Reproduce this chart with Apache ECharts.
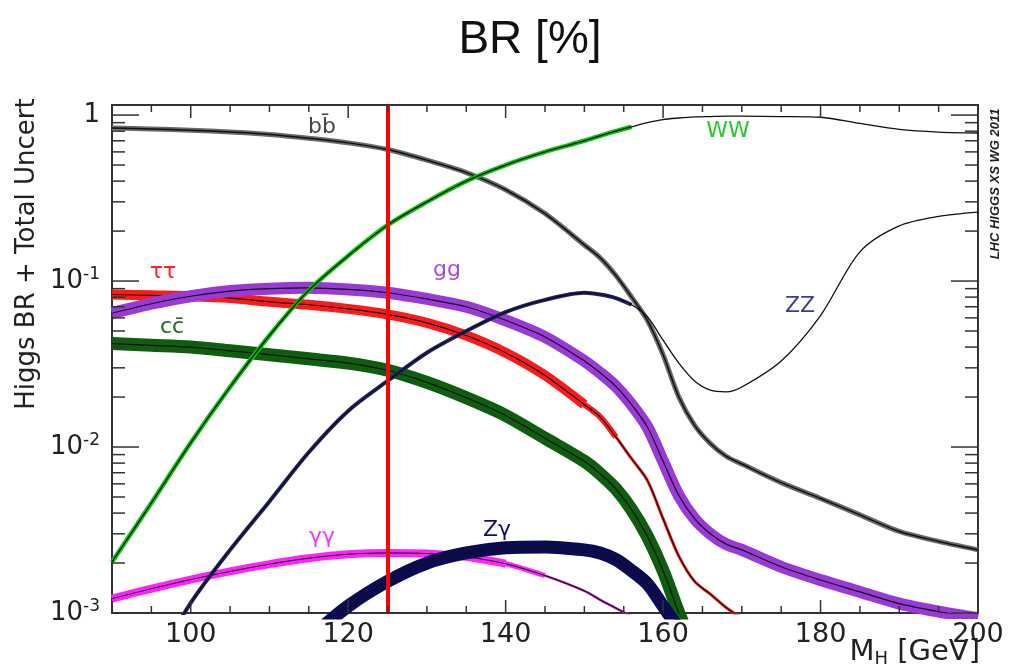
<!DOCTYPE html>
<html>
<head>
<meta charset="utf-8">
<script src="https://cdn.jsdelivr.net/npm/echarts@6/dist/echarts.min.js"></script>
<style>
  html, body { margin: 0; padding: 0; background: #fff; }
  #chart { width: 1009px; height: 672px; }
</style>
</head>
<body>
<div id="chart"></div>
<script>
// Higgs mass grid [GeV]
const masses = [90, 95, 100, 105, 110, 115, 120, 125, 130, 135, 140, 145, 150,
  152, 154, 156, 158, 160, 162, 164, 166, 168, 170,
  175, 180, 185, 190, 195, 200];

// branching ratios (null = off the chart)
const brBB = [0.835, 0.825, 0.81, 0.79, 0.765, 0.725, 0.68, 0.62, 0.535, 0.45, 0.355, 0.255, 0.165,
  0.138, 0.108, 0.08, 0.058, 0.036, 0.02, 0.0135, 0.0105, 0.0088, 0.0079,
  0.0061, 0.0049, 0.0039, 0.0031, 0.0027, 0.0024];
const brWW = [0.00203, 0.0046, 0.0106, 0.023, 0.047, 0.088, 0.142, 0.217, 0.30, 0.40, 0.50, 0.60, 0.70,
  0.75, 0.80, 0.85, 0.90, 0.94, 0.96, 0.975, 0.98, 0.985, 0.985,
  0.98, 0.97, 0.89, 0.82, 0.79, 0.78];
const brTauTau = [0.083, 0.082, 0.081, 0.079, 0.075, 0.072, 0.068, 0.063, 0.056, 0.047, 0.037, 0.027, 0.018,
  0.0152, 0.0115, 0.0085, 0.0063, 0.0037, 0.0022, 0.00155, 0.0013, 0.00108, 0.00093,
  null, null, null, null, null, null];
const brGG = [0.064, 0.073, 0.081, 0.087, 0.09, 0.091, 0.089, 0.085, 0.078, 0.07, 0.058, 0.046, 0.033,
  0.028, 0.0232, 0.018, 0.0132, 0.0082, 0.0051, 0.0037, 0.003, 0.0026, 0.0024,
  0.0019, 0.00158, 0.00134, 0.00114, 0.00102, 0.00093];
const brCC = [0.042, 0.041, 0.04, 0.038, 0.036, 0.034, 0.032, 0.029, 0.0245, 0.0198, 0.0155, 0.0113, 0.0082,
  0.0069, 0.0056, 0.0042, 0.0029, 0.0018, 0.001, 0.0006, null, null, null,
  null, null, null, null, null, null];
const brZZ = [null, 0.00045, 0.00115, 0.0024, 0.0047, 0.0093, 0.0165, 0.025, 0.037, 0.05, 0.065, 0.077, 0.085,
  0.083, 0.079, 0.072, 0.061, 0.044, 0.032, 0.025, 0.022, 0.0215, 0.023,
  0.033, 0.062, 0.15, 0.215, 0.245, 0.26];
const brGamGam = [0.00122, 0.0014, 0.00159, 0.00178, 0.00197, 0.00214, 0.00226, 0.0023, 0.00228, 0.00218, 0.00198, 0.00168, 0.00136,
  0.0012, 0.00107, 0.00095, 0.00085, null, null, null, null, null, null,
  null, null, null, null, null, null];
const brZGam = [null, null, null, null, null, 0.0007, 0.0011, 0.00155, 0.002, 0.0023, 0.00247, 0.0025, 0.0024,
  0.0023, 0.0021, 0.0018, 0.0015, 0.0011, 0.0008, null, null, null, null,
  null, null, null, null, null, null];

const higgsMass = 125;
const yMin = 0.001, yMax = 1.15;

const FONT = 'DejaVu Sans';

// x tick marks every 5 GeV, y tick marks 1..9 per decade
const xTickVals = [];
for (let m = 90; m <= 200; m += 5) xTickVals.push(m);
const yTickVals = [];
[0.001, 0.01, 0.1].forEach(d => { for (let k = 1; k <= 9; k++) yTickVals.push(+(k * d).toPrecision(3)); });
yTickVals.push(1);

function pairs(values, cut) {
  return masses.map((m, i) => [m, (cut && m > cut) ? null : values[i]]);
}
// coloured uncertainty band (drawn as a wide stroke)
function band(name, values, color, width, cut) {
  return {
    name: name, type: 'line', data: pairs(values, cut), showSymbol: false,
    smooth: 0.3, silent: true, connectNulls: false,
    lineStyle: { color: color, width: width, cap: 'butt' }
  };
}
// central value
function centre(name, values, width) {
  return {
    name: name, type: 'line', data: pairs(values), showSymbol: false,
    smooth: 0.3, silent: true,
    lineStyle: { color: '#111', width: width || 1.2 }
  };
}

const isDecade = v => Math.abs(Math.log10(v) - Math.round(Math.log10(v))) < 1e-6;

const chart = echarts.init(document.getElementById('chart'));
const option = {
  animation: false,
  grid: { left: 112, right: 31, top: 105, bottom: 59, show: true, borderColor: '#333', borderWidth: 2 },
  xAxis: {
    type: 'value', min: 90, max: 200, interval: 10,
    axisLine: { show: false }, axisTick: { show: false }, splitLine: { show: false },
    axisLabel: {
      margin: 8, fontFamily: FONT, fontSize: 27, color: '#222',
      formatter: v => (v % 20 === 0 ? String(v) : '')
    }
  },
  yAxis: {
    type: 'log', logBase: 10, min: yMin, max: yMax,
    axisLine: { show: false }, axisTick: { show: false }, splitLine: { show: false },
    axisLabel: {
      margin: 12,
      formatter: v => {
        if (!isDecade(v)) return '';
        const e = Math.round(Math.log10(v));
        return e === 0 ? '{b|1}' : '{b|10}{s|' + e + '}';
      },
      rich: {
        b: { fontFamily: FONT, fontSize: 26, color: '#222' },
        s: { fontFamily: FONT, fontSize: 17, color: '#222', padding: [0, 0, 12, 0] }
      }
    }
  },
  series: [
    band('bb', brBB, '#6a6a6a', 5),
    centre('bb', brBB, 1.5),
    band('tautau', brTauTau, '#ff1a1a', 3),
    band('tautau', brTauTau, '#ff1a1a', 6, 154),
    band('tautau', brTauTau, '#ff1a1a', 10, 150),
    centre('tautau', brTauTau),
    band('gg', brGG, '#9a3ad6', 12),
    centre('gg', brGG),
    band('cc', brCC, '#0e5e0e', 13),
    centre('cc', brCC),
    band('gamgam', brGamGam, '#b020b0', 2.5),
    band('gamgam', brGamGam, '#ff22ff', 5, 146),
    band('gamgam', brGamGam, '#ff22ff', 8, 140),
    centre('gamgam', brGamGam, 1),
    band('ZZ', brZZ, '#23236e', 4, 156),
    centre('ZZ', brZZ, 1.3),
    band('Zgam', brZGam, '#0b0b55', 13),
    centre('Zgam', brZGam),
    band('WW', brWW, '#00c800', 4.5, 156),
    centre('WW', brWW, 1.3),
    {
      name: 'mH', type: 'line', data: [], silent: true, z: 5,
      markLine: {
        symbol: 'none', silent: true, animation: false,
        label: { show: false },
        lineStyle: { color: '#ff0000', width: 4, type: 'solid' },
        data: [{ xAxis: higgsMass }]
      }
    },
    {
      // x ticks on bottom and top frame
      type: 'custom', silent: true, z: 6,
      data: xTickVals.map(v => [v, yMin]),
      renderItem: (params, api) => {
        const v = api.value(0);
        const b = api.coord([v, yMin]);
        const t = api.coord([v, yMax]);
        const len = v % 20 === 0 ? 13 : 7;
        const st = { stroke: '#333', lineWidth: 1.5 };
        return { type: 'group', children: [
          { type: 'line', shape: { x1: b[0], y1: b[1], x2: b[0], y2: b[1] - len }, style: st },
          { type: 'line', shape: { x1: t[0], y1: t[1], x2: t[0], y2: t[1] + len }, style: st }
        ] };
      }
    },
    {
      // y ticks on left and right frame
      type: 'custom', silent: true, z: 6,
      data: yTickVals.map(v => [90, v]),
      renderItem: (params, api) => {
        const v = api.value(1);
        const l = api.coord([90, v]);
        const r = api.coord([200, v]);
        const len = isDecade(v) ? 27 : 13;
        const st = { stroke: '#333', lineWidth: 1.5 };
        return { type: 'group', children: [
          { type: 'line', shape: { x1: l[0], y1: l[1], x2: l[0] + len, y2: l[1] }, style: st },
          { type: 'line', shape: { x1: r[0], y1: r[1], x2: r[0] - len, y2: r[1] }, style: st }
        ] };
      }
    }
  ],
  graphic: [
    { type: 'text', x: 530, y: 40, style: { text: 'BR [%]', font: '46px "Liberation Sans"', fill: '#111', align: 'center', verticalAlign: 'middle' } },
    { type: 'text', x: 27, y: 254, rotation: Math.PI / 2,
      style: { text: 'Higgs BR + Total Uncert', font: '26px "DejaVu Sans"', fill: '#222', align: 'center', verticalAlign: 'middle' } },
    { type: 'text', x: 980, y: 652,
      style: {
        text: '{n|M}{u|H}{n| [GeV]}', align: 'right', verticalAlign: 'middle',
        rich: {
          n: { fontFamily: FONT, fontSize: 29, fill: '#222' },
          u: { fontFamily: FONT, fontSize: 18, fill: '#222', padding: [14, 0, 0, 0] }
        }
      } },
    { type: 'text', x: 995, y: 184, rotation: Math.PI / 2,
      style: { text: 'LHC HIGGS XS WG 2011', font: 'italic bold 13px "Liberation Sans"', fill: '#222', align: 'center', verticalAlign: 'middle' } },
    { type: 'text', x: 322, y: 127, style: { text: 'bb\u0304', font: '22px "DejaVu Sans"', fill: '#444', align: 'center', verticalAlign: 'middle' } },
    { type: 'text', x: 728, y: 131, style: { text: 'WW', font: '22px "DejaVu Sans"', fill: '#22cc22', align: 'center', verticalAlign: 'middle' } },
    { type: 'text', x: 163, y: 272, style: { text: 'ττ', font: '22px "DejaVu Sans"', fill: '#ff2020', align: 'center', verticalAlign: 'middle' } },
    { type: 'text', x: 447, y: 270, style: { text: 'gg', font: '22px "DejaVu Sans"', fill: '#a64ad9', align: 'center', verticalAlign: 'middle' } },
    { type: 'text', x: 172, y: 327, style: { text: 'cc\u0304', font: '22px "DejaVu Sans"', fill: '#226622', align: 'center', verticalAlign: 'middle' } },
    { type: 'text', x: 800, y: 306, style: { text: 'ZZ', font: '22px "DejaVu Sans"', fill: '#3a3aa0', align: 'center', verticalAlign: 'middle' } },
    { type: 'text', x: 322, y: 537, style: { text: 'γγ', font: '22px "DejaVu Sans"', fill: '#ff33ff', align: 'center', verticalAlign: 'middle' } },
    { type: 'text', x: 497, y: 530, style: { text: 'Zγ', font: '22px "DejaVu Sans"', fill: '#101060', align: 'center', verticalAlign: 'middle' } }
  ]
};
chart.setOption(option);
</script>
</body>
</html>
